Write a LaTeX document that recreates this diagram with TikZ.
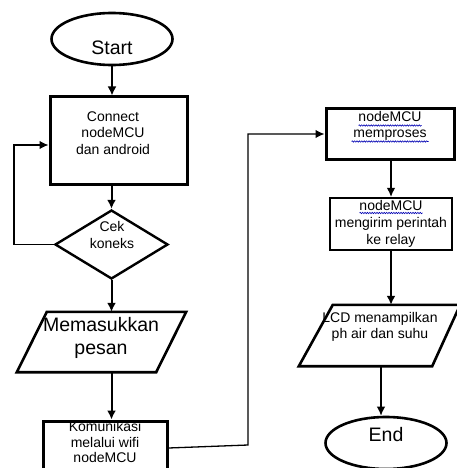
\documentclass[tikz,border=0pt]{standalone}
\usepackage{fontspec}
\setmainfont{Liberation Sans}
\usetikzlibrary{shapes.geometric,arrows.meta,decorations.pathmorphing}
\begin{document}
\begin{tikzpicture}[x=1pt,y=-1pt,
 txt/.style={font=\fontsize{14}{16.5}\selectfont, align=center, text=black, inner sep=0},
 big/.style={font=\fontsize{19.5}{23}\selectfont, align=center, text=black, inner sep=0},
 term/.style={draw, ellipse, line width=2.6pt, minimum width=121pt, minimum height=52pt, inner sep=0},
 procbox/.style={draw, rectangle, line width=3pt, inner sep=0},
 ghost/.style={rectangle, inner sep=0},
 flow/.style={line width=2pt, -{Latex[length=9pt,width=9pt]}},
 thinflow/.style={line width=1.3pt, -{Latex[length=9pt,width=8.5pt]}},
 squig/.style={blue!70!black, line width=0.6pt, decorate, decoration={snake, amplitude=0.7pt, segment length=2.4pt}}
]
\useasboundingbox (0,0) rectangle (457,468);
% left column
\node[term] (start) at (112,39) {};
\node[big] (starttxt) at (112,48) {Start};
\node[procbox, minimum width=137pt, minimum height=87pt] (conn) at (118.5,140.5) {};
\node[txt] (conntxt) at (113,133) {Connect\\nodeMCU\\dan android};
\node[draw, diamond, line width=2.4pt, minimum width=113pt, minimum height=69pt, inner sep=0] (cek) at (111.5,244.5) {};
\node[txt] (cektxt) at (112,235) {Cek\\koneks};
\node[ghost, minimum width=139pt, minimum height=60pt] (pesan) at (101.5,342) {};
\draw[line width=2.6pt, line join=miter] ([xshift=15pt]pesan.north west) -- ([xshift=15pt]pesan.north east) -- ([xshift=-15pt]pesan.south east) -- ([xshift=-15pt]pesan.south west) -- cycle;
\node[big] (pesantxt) at (101,338) {Memasukkan\\pesan};
\node[procbox, minimum width=124pt, minimum height=60pt] (kom) at (105,451) {};
\node[txt, font=\fontsize{14}{15.5}\selectfont] (komtxt) at (105,442) {Komunikasi\\melalui wifi\\nodeMCU};
% right column
\node[procbox, minimum width=128pt, minimum height=50pt] (mem) at (390,134) {};
\node[txt, font=\fontsize{14}{16}\selectfont] (memtxt) at (390,126) {nodeMCU\\memproses};
\draw[squig] (358.5,125.5) -- (421.5,125.5);
\draw[squig] (351.5,141.5) -- (428.5,141.5);
\node[draw, rectangle, line width=2.2pt, minimum width=122pt, minimum height=52pt, inner sep=0] (kirim) at (391,224) {};
\node[txt, font=\fontsize{14}{17}\selectfont] (kirimtxt) at (391,224) {nodeMCU\\mengirim perintah\\ke relay};
\draw[squig] (359.5,213) -- (422.5,213);
\node[ghost, minimum width=134pt, minimum height=61pt] (lcd) at (381,335.5) {};
\draw[line width=2.6pt, line join=miter] ([xshift=19pt]lcd.north west) -- ([xshift=12pt]lcd.north east) -- ([xshift=-16pt]lcd.south east) -- ([xshift=-15pt]lcd.south west) -- cycle;
\node[txt] (lcdtxt) at (380,327) {LCD menampilkan\\ph air dan suhu};
\node[term] (endn) at (386,443) {};
\node[big] (endtxt) at (386,435) {End};
% connectors
\coordinate (loopc) at (14,244.5);
\coordinate (bend) at (248,445);
\draw[flow] (start.south) -- (start.south |- conn.north);
\draw[flow] (conn.south -| cek.north) -- (cek.north);
\draw[thinflow] (cek.west) -- (loopc) |- ([yshift=-4.5pt]conn.west);
\draw[flow] (cek.south) -- (cek.south |- pesan.north);
\draw[flow] (cek.south |- pesan.south) -- (cek.south |- kom.north);
\draw[thinflow] ([yshift=3pt]kom.east) -- (bend) |- (mem.west);
\draw[thinflow] (mem.south -| kirim.north) -- (kirim.north);
\draw[flow] (kirim.south) -- (kirim.south |- lcd.north);
\draw[thinflow] (lcd.south) -- (lcd.south |- endn.north);
\end{tikzpicture}
\end{document}
